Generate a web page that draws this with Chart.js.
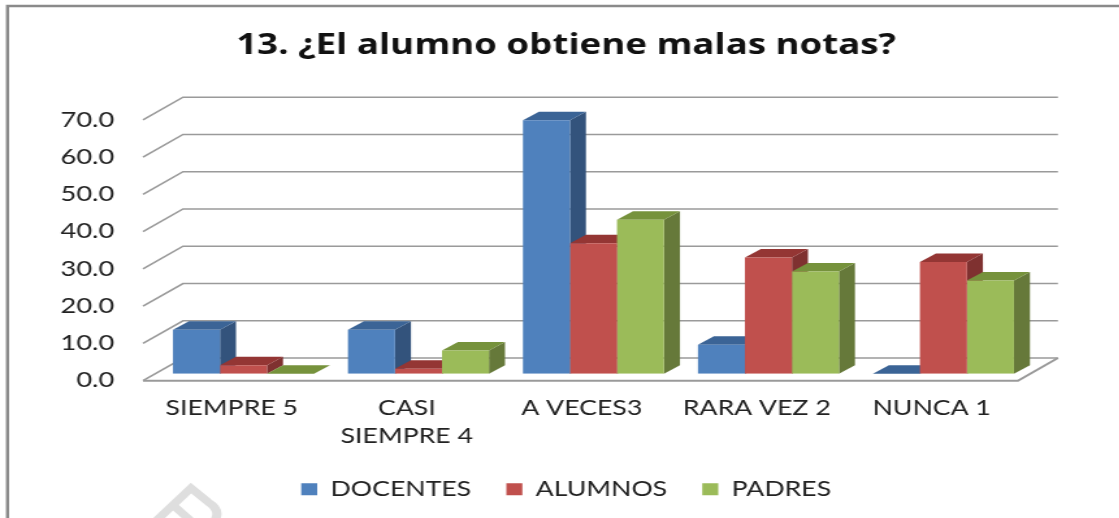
<!DOCTYPE html>
<html lang="es">
<head>
<meta charset="utf-8">
<title>13. ¿El alumno obtiene malas notas?</title>
<style>
html,body{margin:0;padding:0;background:#fff;overflow:hidden;width:1119px;height:518px}
#wrap{width:861px;height:518px;transform-origin:0 0;transform:scaleX(1.3);filter:blur(0.45px)}
canvas{display:block}
</style>
<script src="https://cdn.jsdelivr.net/npm/chart.js@4/dist/chart.umd.js"></script>
</head>
<body>
<div id="wrap"><canvas id="c" width="861" height="518"></canvas></div>
<script>
const titleText = "13. ¿El alumno obtiene malas notas?";
const categories = ["SIEMPRE 5", ["CASI", "SIEMPRE 4"], "A VECES3", "RARA VEZ 2", "NUNCA 1"];
const docentes = [11.8, 11.8, 68.0, 7.8, 0.0];
const alumnos  = [2.3, 1.3, 35.0, 31.2, 30.0];
const padres   = [0.0, 6.2, 41.3, 27.4, 25.0];
const seriesNames = ["DOCENTES", "ALUMNOS", "PADRES"];

const S = 1.3;
const fronts = ["#4f81bd", "#c0504d", "#9bbb59"];
const sides  = ["#33537c", "#7f3130", "#66793a"];
const tops   = ["#3b6496", "#943634", "#76923c"];
const FONT = "Lato";
const TEXT = "#222222";
const GRID = "#9a9a9a";

function poly(ctx, pts, fill){
  ctx.beginPath();
  pts.forEach((p,i)=> i ? ctx.lineTo(p[0],p[1]) : ctx.moveTo(p[0],p[1]));
  ctx.closePath();
  ctx.fillStyle = fill;
  ctx.fill();
}

const scene3d = {
  id: "scene3d",
  beforeDraw(chart){
    const ctx = chart.ctx;
    ctx.save();
    ctx.fillStyle = "#ffffff";
    ctx.fillRect(0,0,chart.width,chart.height);
    // watermark fragment
    ctx.strokeStyle = "#dedede";
    ctx.lineWidth = 7;
    ctx.lineCap = "butt";
    ctx.beginPath();
    ctx.moveTo(157/S,520);
    ctx.lineTo(191/S,488);
    ctx.lineTo(208/S,502);
    ctx.quadraticCurveTo(221/S,510,215/S,520);
    ctx.moveTo(174/S,506);
    ctx.lineTo(190/S,520);
    ctx.stroke();
    // outer frame
    ctx.strokeStyle = "#8a8a8a";
    ctx.lineWidth = 2.4;
    ctx.beginPath();
    ctx.moveTo(7.5/S,520);
    ctx.lineTo(7.5/S,6);
    ctx.lineTo(chart.width+4,6);
    ctx.stroke();
    ctx.restore();
  },
  beforeDatasetsDraw(chart){
    const ctx = chart.ctx, a = chart.chartArea, y = chart.scales.y;
    const fx = a.left-13/S, bx = a.left+27/S, brx = a.right+27/S, frx = a.right-13/S;
    ctx.save();
    ctx.strokeStyle = GRID;
    ctx.lineWidth = 1.6;
    y.ticks.forEach(t=>{
      const p = y.getPixelForValue(t.value);
      ctx.beginPath();
      ctx.moveTo(fx,p+7);
      ctx.lineTo(bx,p-15.7);
      ctx.lineTo(brx,p-15.7);
      ctx.stroke();
    });
    const p0 = y.getPixelForValue(0);
    ctx.lineWidth = 2;
    ctx.beginPath();
    ctx.moveTo(fx,p0+7);
    ctx.lineTo(frx,p0+7);
    ctx.lineTo(brx,p0-15.7);
    ctx.stroke();
    // depth faces of every bar, taken from the bar elements
    const dx = 16/S, dy = 8.5;
    const n = chart.data.labels.length;
    for(let j=0;j<n;j++){
      for(let i=0;i<chart.data.datasets.length;i++){
        const b = chart.getDatasetMeta(i).data[j];
        const l = b.x-b.width/2, r = b.x+b.width/2, t = b.y, bt = b.base;
        poly(ctx,[[r,t],[r+dx,t-dy],[r+dx,bt-dy],[r,bt]],sides[i]);
        poly(ctx,[[l,t],[l+dx,t-dy],[r+dx,t-dy],[r,t]],tops[i]);
      }
    }
    ctx.restore();
  }
};

new Chart(document.getElementById("c"),{
  type:"bar",
  data:{
    labels:categories,
    datasets:[
      {label:seriesNames[0],data:docentes,backgroundColor:fronts[0]},
      {label:seriesNames[1],data:alumnos,backgroundColor:fronts[1]},
      {label:seriesNames[2],data:padres,backgroundColor:fronts[2]}
    ]
  },
  plugins:[scene3d],
  options:{
    responsive:false,
    animation:false,
    devicePixelRatio:1,
    categoryPercentage:0.806,
    barPercentage:1,
    layout:{padding:{left:10,right:0,top:0,bottom:8.5}},
    plugins:{
      tooltip:{enabled:false},
      title:{
        display:true,text:titleText,color:"#111111",
        font:{family:"Open Sans",size:28.2,weight:"bold",lineHeight:1.2},
        padding:{top:29,bottom:50.06}
      },
      legend:{
        position:"bottom",
        labels:{
          color:TEXT,boxWidth:12.3,boxHeight:12,padding:27,
          font:{family:FONT,size:20.5}
        }
      }
    },
    scales:{
      x:{
        grid:{display:false},border:{display:false},
        ticks:{color:TEXT,font:{family:FONT,size:20.5,lineHeight:1.37},padding:13,labelOffset:-9,maxRotation:0,autoSkip:false},
        afterFit(s){s.height=78.3;}
      },
      y:{
        min:0,max:70,
        grid:{display:false,drawTicks:false},border:{display:false},
        ticks:{stepSize:10,color:TEXT,font:{family:FONT,size:21},padding:32,labelOffset:7,
          callback:v=>v.toFixed(1)},
        afterFit(s){s.width=110;}
      },
      yR:{
        position:"right",min:0,max:70,
        grid:{display:false,drawTicks:false},border:{display:false},
        ticks:{display:false},
        afterFit(s){s.width=68;}
      }
    }
  }
});
</script>
</body>
</html>
